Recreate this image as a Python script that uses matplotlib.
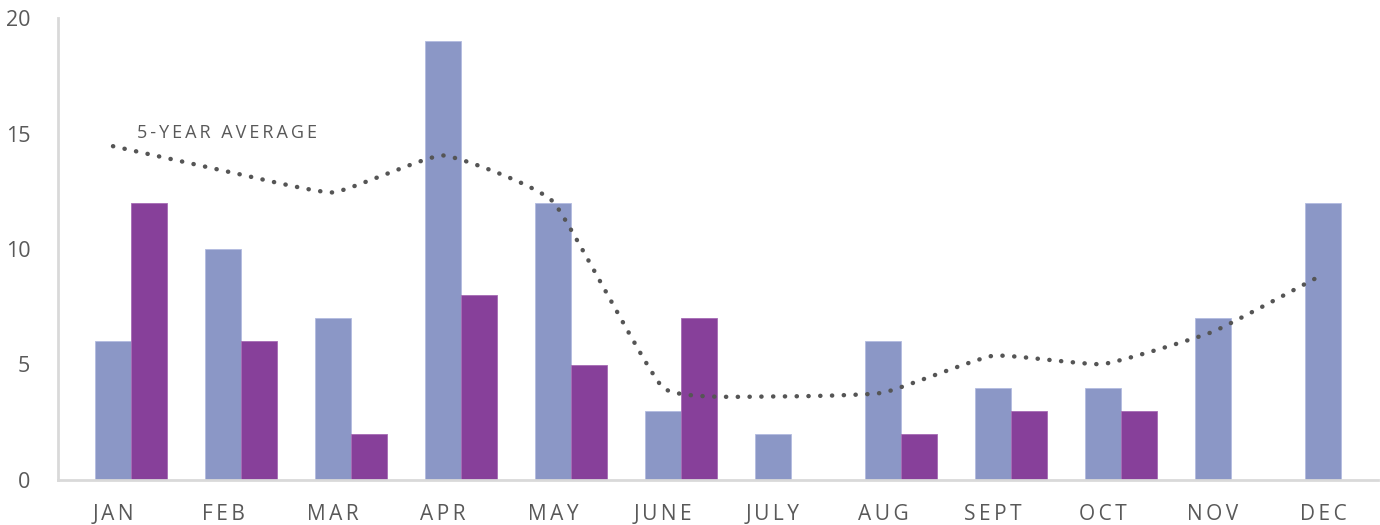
import numpy as np
import matplotlib
matplotlib.use("Agg")
import matplotlib.pyplot as plt

months = ["JAN", "FEB", "MAR", "APR", "MAY", "JUNE", "JULY", "AUG", "SEPT", "OCT", "NOV", "DEC"]
series_a = [6, 10, 7, 19, 12, 3, 2, 6, 4, 4, 7, 12]
series_b = [12, 6, 2, 8, 5, 7, 0, 2, 3, 3, 0, 0]
five_year_avg = [14.45, 13.4, 12.45, 14.05, 12.05, 4.0, 3.62, 3.78, 5.38, 5.02, 6.42, 8.9]
yticks = [0, 5, 10, 15, 20]
avg_label = "5-YEAR AVERAGE"

plt.rcParams['font.family'] = ['Open Sans', 'DejaVu Sans']

def spaced(s, sep="\u2009"):
    return sep.join(list(s))

def hermite_smooth(xs, ys, tension=0.2, n=30):
    P = np.column_stack([np.asarray(xs, float), np.asarray(ys, float)])
    Pe = np.vstack([P[0], P, P[-1]])
    M = tension * (Pe[2:] - Pe[:-2])
    t = np.linspace(0, 1, n, endpoint=False)[:, None]
    h00 = 2 * t**3 - 3 * t**2 + 1
    h10 = t**3 - 2 * t**2 + t
    h01 = -2 * t**3 + 3 * t**2
    h11 = t**3 - t**2
    out = []
    for i in range(len(P) - 1):
        out.append(h00 * P[i] + h10 * M[i] + h01 * P[i + 1] + h11 * M[i + 1])
    out.append(P[-1][None, :])
    out = np.vstack(out)
    return out[:, 0], out[:, 1]

fig = plt.figure(figsize=(13.8, 5.25), dpi=100)
ax = fig.add_axes([58 / 1380, 45 / 525, 1320 / 1380, 462 / 525])

x = np.arange(len(months))
w = 0.33
ax.bar(x + 0.0, series_a, width=w, align='center', color='#8B97C6', edgecolor='#b3bbe0', linewidth=0.6, zorder=2)
ax.bar(x + 0.33, series_b, width=w, align='center', color='#87409A', edgecolor='#a66bb5', linewidth=0.6, zorder=2)

sx, sy = hermite_smooth(x, five_year_avg, tension=0.2)
ax.plot(sx, sy, color='#555555', linewidth=3.2, linestyle=(0, (0.05, 2.6)),
        dash_capstyle='round', solid_capstyle='round', zorder=3)

ax.text(0.22, 14.65, spaced(avg_label), fontsize=13, color='#595959', ha='left', va='bottom')

ax.set_xlim(-0.5, 11.5)
ax.set_ylim(0, 20)
ax.set_yticks(yticks)
ax.set_yticklabels([str(v) for v in yticks], fontsize=15.5, color='#595959')
ax.set_xticks(x)
ax.set_xticklabels([spaced(m) for m in months], fontsize=15, color='#595959')
ax.tick_params(axis='both', length=0)
ax.tick_params(axis='y', pad=20)
ax.tick_params(axis='x', pad=17)

for s in ['top', 'right']:
    ax.spines[s].set_visible(False)
for s in ['left', 'bottom']:
    ax.spines[s].set_color('#d9d9d9')
    ax.spines[s].set_linewidth(2)

fig.savefig('out.png', dpi=100)
